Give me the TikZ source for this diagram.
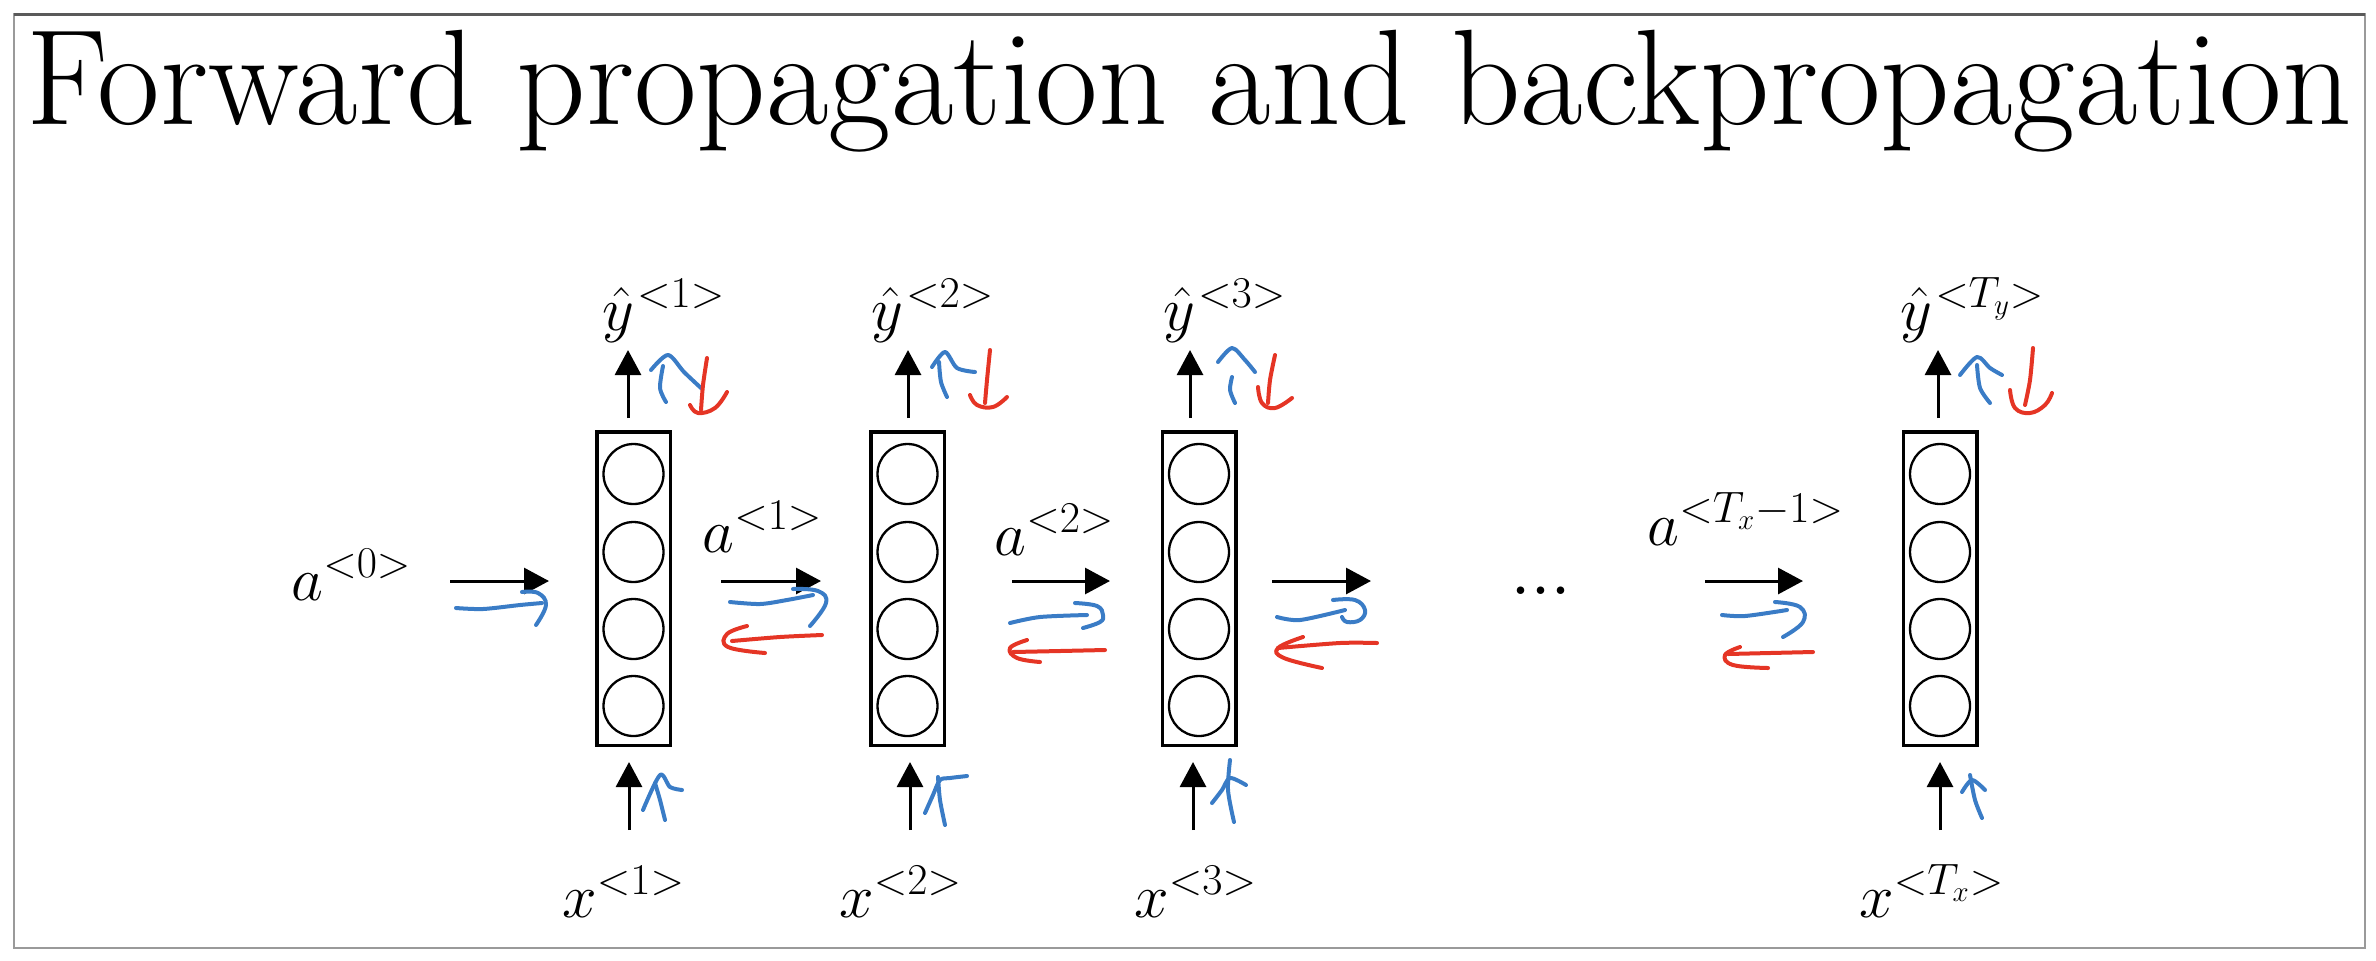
\documentclass[tikz,border=0pt]{standalone}
\usepackage{fix-cm}
\usetikzlibrary{arrows.meta}
\renewcommand\defaultscriptratio{.66}
\renewcommand\defaultscriptscriptratio{.5}
\newcommand\tsup[1]{^{\hbox{\fontsize{22}{24}\selectfont$#1$}}}
\newcommand\ysup[1]{^{\kern1.5pt\hbox{\fontsize{22}{24}\selectfont$#1$}}}
\newcommand\lt{\mathord{<}}
\newcommand\gtr{\mathord{>}}
\definecolor{penblue}{HTML}{3A7CC6}
\definecolor{penred}{HTML}{E53525}
\definecolor{framegray}{HTML}{9A9A9A}
\definecolor{framedark}{HTML}{5A5A5A}
\begin{document}
\begin{tikzpicture}[x=0.5pt,y=-0.5pt,
  lbl/.style={anchor=base west,inner sep=0pt,font=\fontsize{31}{36}\selectfont},
  layerbox/.style={draw,line width=1.75pt,minimum width=36.75pt,minimum height=156.75pt,inner sep=0pt},
  unit/.style={draw,circle,line width=1.15pt,minimum size=30pt,inner sep=0pt},
  flow/.style={line width=1.5pt,-{Triangle[length=12.5pt,width=13pt]}},
  pen/.style={line width=2pt,line cap=round,line join=round},
  fwd/.style={pen,penblue},
  bwd/.style={pen,penred}]
\useasboundingbox (0,0) rectangle (2376,960);
% frame
\draw[framegray,line width=1.2pt] (14,14) rectangle (2365,948);
\draw[framedark,line width=1.5pt] (14,14) -- (2365,14);
% title
\node[anchor=base west,inner sep=0pt,font=\fontsize{68}{76}\selectfont] (title) at (26,124) {Forward propagation and backpropagation};

% layer boxes and units
\foreach \n/\cx in {1/633.5,2/907.5,3/1199,4/1940}{
  \node[layerbox] (b\n) at (\cx,588.5) {};
  \node[unit] (b\n u1) at (\cx,474) {};
  \node[unit] (b\n u2) at (\cx,552) {};
  \node[unit] (b\n u3) at (\cx,629) {};
  \node[unit] (b\n u4) at (\cx,706) {};
}

% labels
\node[lbl] (la0) at (291,600) {$a\tsup{\lt 0\gtr}$};
\node[lbl] (la1) at (702,552) {$a\tsup{\lt 1\gtr}$};
\node[lbl] (la2) at (994,555) {$a\tsup{\lt 2\gtr}$};
\node[lbl] (laT) at (1647,545) {$a\tsup{\lt T_x{-}1\gtr}$};
\node[lbl] (ly1) at (602,330) {$\hat{y}\ysup{\lt 1\gtr}$};
\node[lbl] (ly2) at (871,330) {$\hat{y}\ysup{\lt 2\gtr}$};
\node[lbl] (ly3) at (1163,330) {$\hat{y}\ysup{\lt 3\gtr}$};
\node[lbl] (lyT) at (1900,330) {$\hat{y}\ysup{\lt T_y\gtr}$};
\node[lbl] (lx1) at (562,917) {$x\tsup{\lt 1\gtr}$};
\node[lbl] (lx2) at (839,917) {$x\tsup{\lt 2\gtr}$};
\node[lbl] (lx3) at (1134,917) {$x\tsup{\lt 3\gtr}$};
\node[lbl] (lxT) at (1859,917) {$x\tsup{\lt T_x\gtr}$};
\node[lbl,font=\fontsize{46}{50}\selectfont] (dots) at (1509,594) {.\kern-1.6pt.\kern-1.6pt.};

% horizontal arrows
\coordinate (h0s) at (450,581);  \coordinate (h0e) at (549,581);
\coordinate (h1s) at (721,581);  \coordinate (h1e) at (821,581);
\coordinate (h2s) at (1012,581); \coordinate (h2e) at (1110,581);
\coordinate (h3s) at (1272,581); \coordinate (h3e) at (1371,581);
\coordinate (hTs) at (1705,581); \coordinate (hTe) at (1803,581);
\foreach \k in {0,1,2,3,T}{\draw[flow] (h\k s) -- (h\k e);}

% vertical arrows
\coordinate (t1s) at (628,418);  \coordinate (t1e) at (628,350);
\coordinate (t2s) at (908,418);  \coordinate (t2e) at (908,350);
\coordinate (t3s) at (1190,418); \coordinate (t3e) at (1190,350);
\coordinate (t4s) at (1938,418); \coordinate (t4e) at (1938,350);
\coordinate (u1s) at (629,830);  \coordinate (u1e) at (629,762);
\coordinate (u2s) at (910,830);  \coordinate (u2e) at (910,762);
\coordinate (u3s) at (1193,830); \coordinate (u3e) at (1193,762);
\coordinate (u4s) at (1940,830); \coordinate (u4e) at (1940,762);
\foreach \k in {1,2,3,4}{\draw[flow] (t\k s) -- (t\k e); \draw[flow] (u\k s) -- (u\k e);}

% ---- hand-drawn annotations ----
% top, box 1
\draw[fwd] plot[smooth,tension=0.5] coordinates {(651,370) (668,355) (684,372) (701,388)};
\draw[fwd] plot[smooth,tension=0.5] coordinates {(663,366) (660,388) (666,402)};
\draw[bwd] plot[smooth,tension=0.5] coordinates {(707,358) (703,385) (701,410)};
\draw[bwd] plot[smooth,tension=0.7] coordinates {(690,405) (698,413) (715,408) (727,392)};
% top, box 2
\draw[fwd] plot[smooth,tension=0.5] coordinates {(932,367) (945,352) (957,368) (975,372)};
\draw[fwd] plot[smooth,tension=0.5] coordinates {(939,362) (941,382) (947,397)};
\draw[bwd] plot[smooth,tension=0.5] coordinates {(990,350) (987,380) (985,403)};
\draw[bwd] plot[smooth,tension=0.7] coordinates {(970,395) (977,405) (993,407) (1007,397)};
% top, box 3
\draw[fwd] plot[smooth,tension=0.5] coordinates {(1218,362) (1232,348) (1245,360) (1255,372)};
\draw[fwd] plot[smooth,tension=0.5] coordinates {(1232,377) (1230,390) (1235,403)};
\draw[bwd] plot[smooth,tension=0.5] coordinates {(1275,355) (1270,380) (1268,403)};
\draw[bwd] plot[smooth,tension=0.7] coordinates {(1258,387) (1262,403) (1275,408) (1292,398)};
% top, box 4
\draw[fwd] plot[smooth,tension=0.5] coordinates {(1960,375) (1977,357) (1990,368) (2002,375)};
\draw[fwd] plot[smooth,tension=0.5] coordinates {(1977,365) (1980,388) (1990,403)};
\draw[bwd] plot[smooth,tension=0.5] coordinates {(2033,348) (2030,380) (2025,405)};
\draw[bwd] plot[smooth,tension=0.7] coordinates {(2010,390) (2015,408) (2030,413) (2045,405) (2052,393)};

% horizontal, a0
\draw[fwd] plot[smooth,tension=0.5] coordinates {(456,608) (483,609) (520,605) (542,603)};
\draw[fwd] plot[smooth,tension=0.7] coordinates {(522,592) (538,593) (546,605) (536,625)};
% horizontal, a1
\draw[fwd] plot[smooth,tension=0.5] coordinates {(730,602) (760,604) (787,600) (813,595)};
\draw[fwd] plot[smooth,tension=0.7] coordinates {(793,589) (818,591) (826,603) (810,626)};
\draw[bwd] plot[smooth,tension=0.5] coordinates {(822,635) (780,637) (732,641)};
\draw[bwd] plot[smooth,tension=0.7] coordinates {(747,626) (727,634) (728,647) (765,653)};
% horizontal, a2
\draw[fwd] plot[smooth,tension=0.5] coordinates {(1010,623) (1040,617) (1087,615)};
\draw[fwd] plot[smooth,tension=0.7] coordinates {(1075,603) (1097,606) (1103,615) (1100,622) (1083,628)};
\draw[bwd] plot[smooth,tension=0.5] coordinates {(1105,650) (1060,651) (1013,652)};
\draw[bwd] plot[smooth,tension=0.7] coordinates {(1027,640) (1010,648) (1017,658) (1040,662)};
% horizontal, a3
\draw[fwd] plot[smooth,tension=0.5] coordinates {(1277,617) (1300,620) (1345,610)};
\draw[fwd] plot[smooth,tension=0.7] coordinates {(1333,600) (1355,600) (1365,610) (1360,620) (1347,622) (1342,617)};
\draw[bwd] plot[smooth,tension=0.5] coordinates {(1377,643) (1340,643) (1278,648)};
\draw[bwd] plot[smooth,tension=0.7] coordinates {(1303,637) (1278,648) (1284,658) (1322,668)};
% horizontal, aT
\draw[fwd] plot[smooth,tension=0.5] coordinates {(1722,615) (1745,616) (1787,610)};
\draw[fwd] plot[smooth,tension=0.7] coordinates {(1775,602) (1800,607) (1803,622) (1783,637)};
\draw[bwd] plot[smooth,tension=0.5] coordinates {(1813,652) (1770,653) (1728,654)};
\draw[bwd] plot[smooth,tension=0.7] coordinates {(1740,647) (1725,655) (1733,665) (1768,668)};

% bottom, boxes
\draw[fwd] plot[smooth,tension=0.5] coordinates {(643,810) (660,775) (670,787) (682,790)};
\draw[fwd] plot[smooth,tension=0.5] coordinates {(655,783) (660,800) (665,820)};
\draw[fwd] plot[smooth,tension=0.5] coordinates {(925,813) (933,795) (940,780) (950,778) (967,776)};
\draw[fwd] plot[smooth,tension=0.5] coordinates {(938,777) (940,800) (945,825)};
\draw[fwd] plot[smooth,tension=0.5] coordinates {(1212,803) (1222,790) (1230,778) (1246,785)};
\draw[fwd] plot[smooth,tension=0.5] coordinates {(1230,760) (1228,790) (1234,822)};
\draw[fwd] plot[smooth,tension=0.5] coordinates {(1962,792) (1972,780) (1985,790)};
\draw[fwd] plot[smooth,tension=0.5] coordinates {(1970,775) (1975,800) (1982,818)};
\end{tikzpicture}
\end{document}
